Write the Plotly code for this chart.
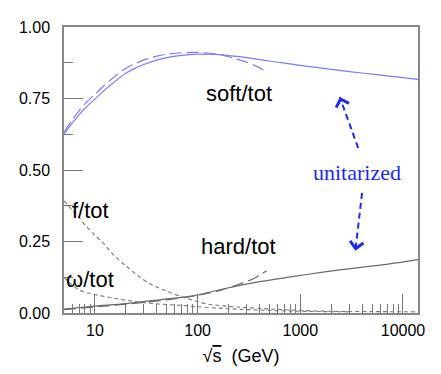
import numpy as np
import plotly.graph_objects as go

# sqrt(s) in GeV, fractions
soft_unit_x = [5, 6, 7, 8, 10, 12, 15, 20, 25, 30, 40, 50, 70, 100, 150, 200, 300, 500, 700, 1000, 2000, 3000, 5000, 10000, 14000]
soft_unit_y = [0.625, 0.664, 0.693, 0.716, 0.748, 0.775, 0.804, 0.838, 0.857, 0.869, 0.884, 0.893, 0.901, 0.905, 0.904, 0.900, 0.893, 0.881, 0.874, 0.866, 0.852, 0.844, 0.835, 0.823, 0.817]

soft_raw_x = [5, 6, 7, 8, 10, 12, 15, 20, 25, 30, 40, 50, 70, 100, 150, 200, 300, 400, 460]
soft_raw_y = [0.632, 0.675, 0.707, 0.731, 0.765, 0.792, 0.822, 0.856, 0.873, 0.885, 0.898, 0.905, 0.910, 0.911, 0.906, 0.896, 0.877, 0.858, 0.844]

hard_unit_x = [5, 10, 20, 44, 90, 176, 380, 800, 1660, 3530, 7380, 14000]
hard_unit_y = [0.014, 0.024, 0.033, 0.047, 0.060, 0.084, 0.108, 0.126, 0.143, 0.158, 0.172, 0.187]

hard_raw_x = [5, 10, 20, 50, 100, 170, 240, 350, 470]
hard_raw_y = [0.012, 0.021, 0.031, 0.046, 0.062, 0.080, 0.098, 0.120, 0.148]

f_x = [5, 6, 7, 8, 10, 12, 15, 20, 27, 34, 50, 70, 100, 126, 245, 520, 1000, 2000, 5000, 14000]
f_y = [0.392, 0.360, 0.333, 0.308, 0.272, 0.245, 0.205, 0.165, 0.127, 0.103, 0.076, 0.057, 0.040, 0.031, 0.021, 0.014, 0.009, 0.006, 0.005, 0.004]

omega_x = [5, 6, 7.15, 9, 11.2, 17.5, 27, 43, 67, 100, 200, 500, 1000, 3000]
omega_y = [0.125, 0.098, 0.079, 0.068, 0.061, 0.048, 0.038, 0.031, 0.027, 0.022, 0.015, 0.009, 0.006, 0.004]

x_ticks = [10, 100, 1000, 10000]
x_minor = [m * 10 ** d for d in range(0, 5) for m in range(2, 10) if 5 <= m * 10 ** d <= 14000]
y_ticks = [0, 0.25, 0.5, 0.75, 1.0]

BLUE = "#7b7bff"
GRAY = "#6a6a6a"
DOT = "#7a7a7a"
ARROW = "#1a2af0"
FONT = "Liberation Sans, Arial, sans-serif"

fig = go.Figure()

fig.add_trace(go.Scatter(x=soft_unit_x, y=soft_unit_y, mode="lines",
                         line=dict(color=BLUE, width=1.2, shape="spline", smoothing=0.8)))
fig.add_trace(go.Scatter(x=soft_raw_x, y=soft_raw_y, mode="lines",
                         line=dict(color=BLUE, width=1.2, dash="12px,5px", shape="spline", smoothing=0.8)))
fig.add_trace(go.Scatter(x=hard_unit_x, y=hard_unit_y, mode="lines",
                         line=dict(color=GRAY, width=1.2, shape="spline", smoothing=0.8)))
fig.add_trace(go.Scatter(x=hard_raw_x, y=hard_raw_y, mode="lines",
                         line=dict(color=GRAY, width=1.2, dash="12px,5px", shape="spline", smoothing=0.8)))
fig.add_trace(go.Scatter(x=f_x, y=f_y, mode="lines",
                         line=dict(color=DOT, width=1.1, dash="4px,3px", shape="spline", smoothing=0.8)))
fig.add_trace(go.Scatter(x=omega_x, y=omega_y, mode="lines",
                         line=dict(color=DOT, width=1.1, dash="4px,3px", shape="spline", smoothing=0.8)))

# text labels (paper coordinates, centred)
labels = [
    ("soft/tot", 0.494, 0.766),
    ("hard/tot", 0.492, 0.234),
    ("f/tot", 0.075, 0.358),
    ("ω/tot", 0.073, 0.118),
]
for txt, xp, yp in labels:
    fig.add_annotation(x=xp, y=yp, xref="paper", yref="paper", text=txt,
                       xanchor="center", yanchor="middle",
                       showarrow=False, font=dict(family=FONT, size=22, color="black"))

fig.add_annotation(x=0.828, y=0.493, xref="paper", yref="paper", text="unitarized",
                   xanchor="center", yanchor="middle", showarrow=False,
                   font=dict(family="Liberation Serif, Times New Roman, serif",
                             size=22, color=ARROW))

# dashed arrows: shaft as shape, head as tiny annotation arrow
for (tx, ty), (hx, hy), (ax, ay) in [
    ((0.831, 0.577), (0.779, 0.755), (2, 6)),
    ((0.842, 0.420), (0.823, 0.218), (1, -6)),
]:
    fig.add_shape(type="line", xref="paper", yref="paper", x0=tx, y0=ty, x1=hx, y1=hy,
                  line=dict(color=ARROW, width=2, dash="6px,4px"))
    fig.add_annotation(x=hx, y=hy, xref="paper", yref="paper", ax=ax, ay=ay,
                       text="", showarrow=True, arrowhead=4, arrowsize=1.3,
                       arrowwidth=2, arrowcolor=ARROW)

# page body adds an 8px margin, so the figure is 16px smaller
fig.update_layout(
    width=425,
    height=358,
    margin=dict(l=56, r=15, t=19, b=53),
    paper_bgcolor="white",
    plot_bgcolor="white",
    showlegend=False,
    font=dict(family=FONT, size=16, color="black"),
)

fig.update_xaxes(
    type="log",
    range=[np.log10(5), np.log10(14000)],
    tickvals=x_ticks,
    ticktext=[str(v) for v in x_ticks],
    ticks="inside",
    ticklen=19,
    tickcolor="#777777",
    ticklabelstandoff=2,
    minor=dict(tickvals=x_minor, ticks="inside", ticklen=9, tickcolor="#777777"),
    showline=True,
    linecolor="#888888",
    linewidth=1.5,
    mirror=True,
    showgrid=False,
    zeroline=False,
    automargin=False,
    title=dict(text="√<span style='text-decoration:overline'>s</span>  (GeV)",
               font=dict(size=18), standoff=13),
)

fig.update_yaxes(
    range=[0, 1],
    tickvals=y_ticks,
    tickformat=".2f",
    ticks="inside",
    ticklen=19,
    tickcolor="#777777",
    ticklabelstandoff=9,
    minor=dict(dtick=0.125, ticks="inside", ticklen=9, tickcolor="#777777"),
    showline=True,
    linecolor="#888888",
    linewidth=1.5,
    mirror=True,
    showgrid=False,
    zeroline=False,
    automargin=False,
)

fig.write_html("out.html")
